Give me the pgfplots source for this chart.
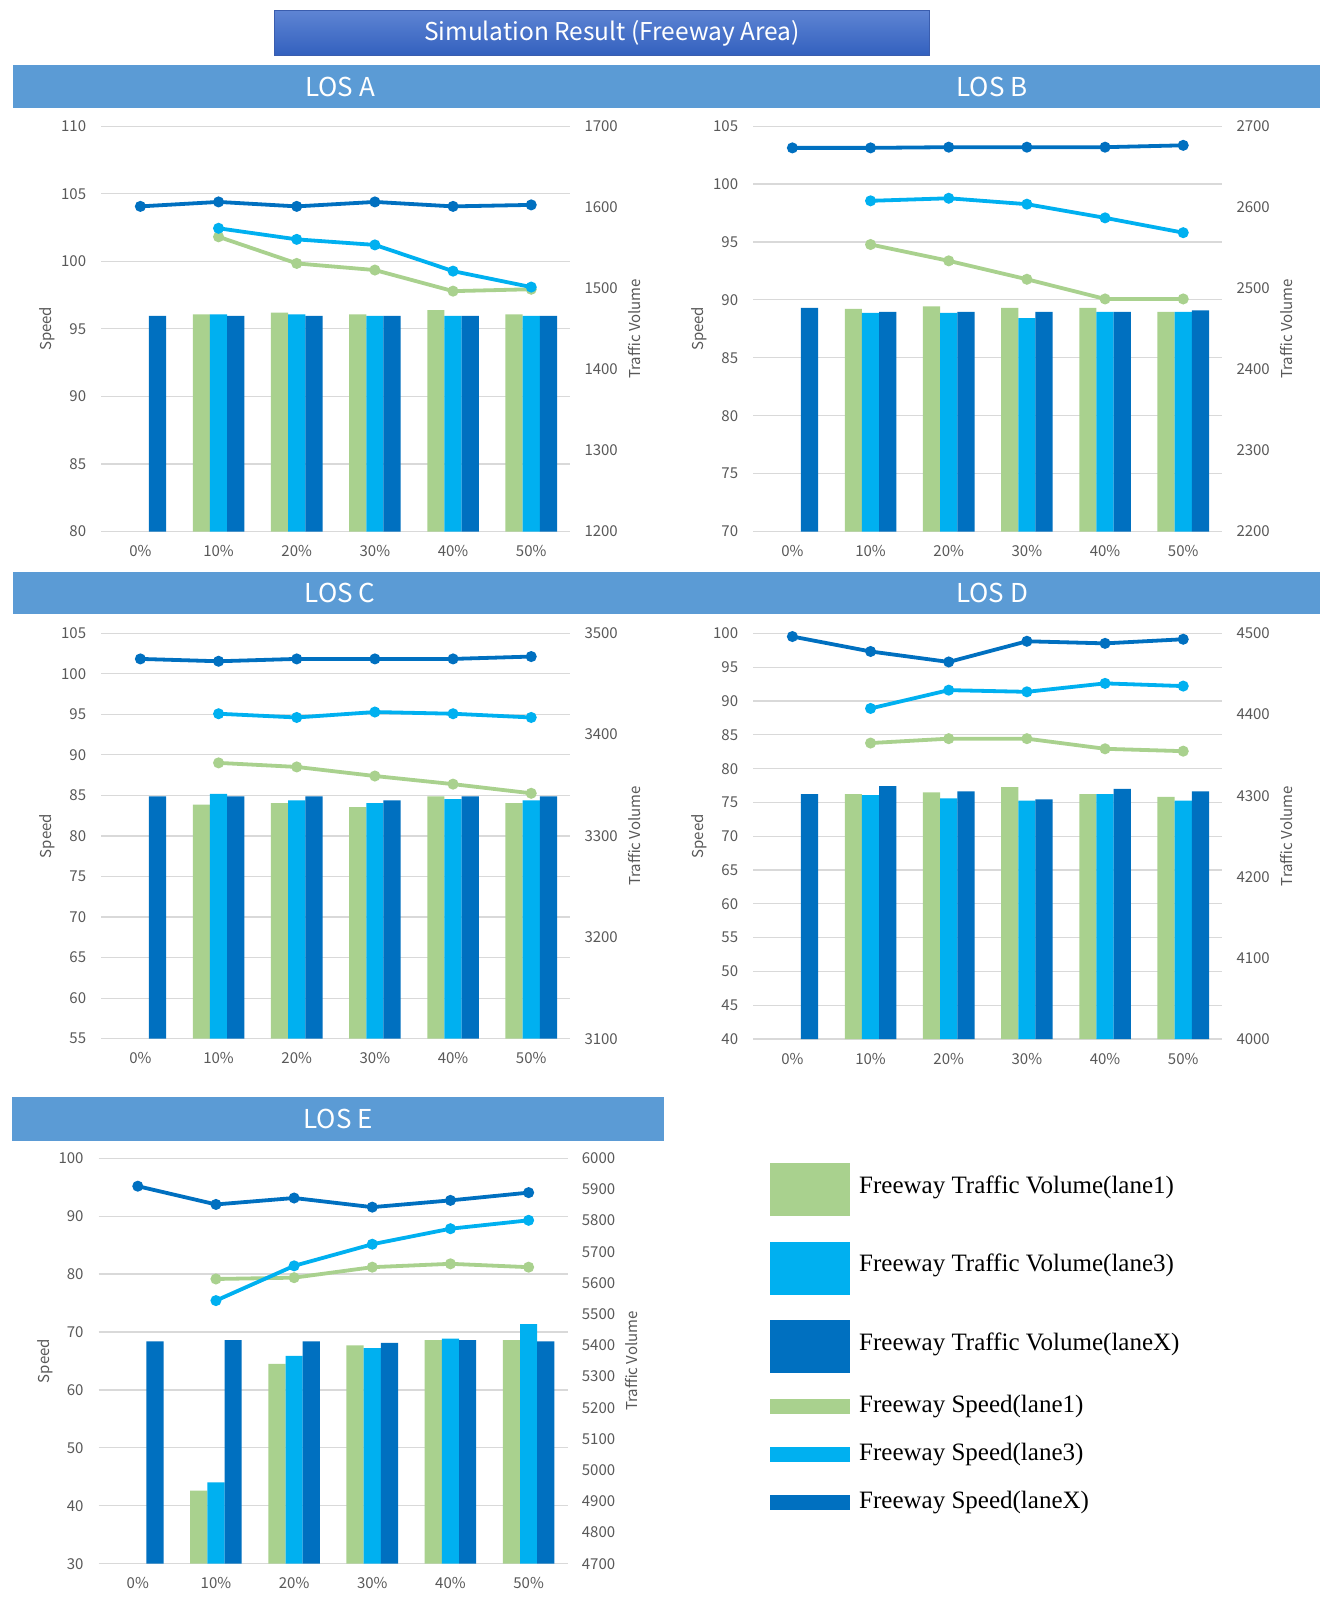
\documentclass[border=0pt]{standalone}
\usepackage{fontspec}
\usepackage{pgfplots}
\usepackage{pgfplotstable}
\pgfplotsset{compat=1.18}
\setmainfont{Noto Sans CJK KR}
\newfontfamily\legendfont{Liberation Serif}
\definecolor{cA}{HTML}{A9D18E}
\definecolor{cB}{HTML}{00B0F0}
\definecolor{cX}{HTML}{0070C0}
\definecolor{band}{HTML}{5B9BD5}
\definecolor{gridc}{HTML}{D9D9D9}
\definecolor{txt}{HTML}{595959}
\definecolor{ttop}{HTML}{5E84D3}
\definecolor{tbot}{HTML}{3260BE}
\definecolor{tborder}{HTML}{3A5DAE}

\pgfplotstableread{
x v1 v3 vX s1 s3 sX
0 nan nan 1466 nan nan 104.06
1 1468 1468 1466 101.81 102.44 104.39
2 1470 1468 1466 99.84 101.62 104.06
3 1468 1466 1466 99.35 101.21 104.39
4 1473 1466 1466 97.79 99.27 104.06
5 1468 1466 1466 97.93 98.09 104.17
}\dataA
\pgfplotstableread{
x v1 v3 vX s1 s3 sX
0 nan nan 2476 nan nan 103.12
1 2474.6 2469.6 2471 94.78 98.55 103.12
2 2477.8 2469.6 2471 93.37 98.77 103.18
3 2476 2463.2 2471 91.78 98.26 103.18
4 2476 2471 2471 90.08 97.08 103.18
5 2471 2471 2472.8 90.08 95.80 103.34
}\dataB
\pgfplotstableread{
x v1 v3 vX s1 s3 sX
0 nan nan 3339 nan nan 101.83
1 3331 3341.4 3339 89.01 95.07 101.54
2 3332.4 3335 3339 88.51 94.61 101.83
3 3328.4 3332.4 3335 87.39 95.28 101.83
4 3339 3336.4 3339 86.39 95.07 101.83
5 3332.4 3335 3339 85.26 94.61 102.12
}\dataC
\pgfplotstableread{
x v1 v3 vX s1 s3 sX
0 nan nan 4302 nan nan 99.55
1 4302 4300.6 4311.9 83.79 88.91 97.34
2 4304 4296.8 4305.2 84.44 91.62 95.79
3 4310.6 4293.9 4295.6 84.44 91.37 98.85
4 4302 4302 4308.5 82.94 92.62 98.54
5 4298.5 4293.9 4305.2 82.59 92.22 99.15
}\dataD
\pgfplotstableread{
x v1 v3 vX s1 s3 sX
0 nan nan 5412.7 nan nan 95.17
1 4934.7 4960.6 5417 79.15 75.42 92.02
2 5340.3 5366.2 5412.7 79.38 81.42 93.13
3 5399.8 5391.1 5408.4 81.19 85.15 91.55
4 5417 5421.4 5417 81.77 87.83 92.72
5 5417 5467.9 5412.7 81.19 89.28 94.06
}\dataE

\pgfplotsset{
 panel/.style={scale only axis, width=469pt, height=405.5pt, anchor=north west,
   xmin=-0.5, xmax=5.5,
   axis line style={draw=none}, tick style={draw=none}, major tick length=0pt,
   /pgf/number format/assume math mode=true, /pgf/number format/1000 sep={},
   scaled y ticks=false,
   tick label style={font=\fontsize{15}{18}\selectfont, text=txt},
   label style={font=\fontsize{15}{18}\selectfont, text=txt}},
 spd/.style={panel, ymajorgrids, grid style={draw=gridc, line width=1.2pt},
   xtick={0,...,5}, xticklabels={0\%,10\%,20\%,30\%,40\%,50\%},
   xticklabel style={anchor=center, inner sep=0pt, yshift=-19.5pt},
   yticklabel style={anchor=east, inner sep=0pt, xshift=-15pt},
   ylabel={Speed}, ylabel style={at={(axis description cs:-0.115,0.5)}, anchor=center}},
 vol/.style={panel, xtick=\empty, yticklabel pos=right,
   yticklabel style={anchor=west, inner sep=0pt, xshift=14pt},
   ylabel={Traffic Volume}, ylabel style={at={(axis description cs:1.137,0.5)}, anchor=center}},
 lns/.style={panel, hide axis, clip=false},
 bar1/.style={ybar, bar width=0.22, bar shift=-0.22, draw=none, fill=cA},
 bar3/.style={ybar, bar width=0.22, bar shift=0, draw=none, fill=cB},
 barX/.style={ybar, bar width=0.22, bar shift=0.22, draw=none, fill=cX},
 ln/.style={line width=3.8pt, mark=*, mark size=3.5pt, mark options={solid}},
 sqimg/.style={legend image code/.code={\path[draw=none, fill=none, use as bounding box] (0pt,-24.5pt) rectangle (89pt,34.5pt); \fill[#1, draw=none] (0pt,-28.5pt) rectangle (80pt,24.5pt);}},
 lnimg/.style={legend image code/.code={\path[draw=none, fill=none, use as bounding box] (0pt,-6pt) rectangle (89pt,18pt); \fill[#1, draw=none] (0pt,-7.5pt) rectangle (80pt,7.5pt);}},
}

\newcommand{\panel}[8]{%
 % #1 x, #2 y, #3 data, #4 smin, #5 smax, #6 sstep, #7 vmin, #8 vmax
 \begin{axis}[spd, at={(#1pt,-#2pt)}, ymin=#4, ymax=#5, ytick distance=#6]
 \end{axis}
 \begin{axis}[vol, at={(#1pt,-#2pt)}, ymin=#7, ymax=#8, ytick distance=100]
  \addplot[bar1] table[x=x, y=v1] {#3};
  \addplot[bar3] table[x=x, y=v3] {#3};
  \addplot[barX] table[x=x, y=vX] {#3};
 \end{axis}
 \begin{axis}[lns, at={(#1pt,-#2pt)}, ymin=#4, ymax=#5]
  \addplot[ln, color=cA] table[x=x, y=s1] {#3};
  \addplot[ln, color=cB] table[x=x, y=s3] {#3};
  \addplot[ln, color=cX] table[x=x, y=sX] {#3};
 \end{axis}
}

\begin{document}
\begin{tikzpicture}
\path[use as bounding box, fill=white] (0,0) rectangle (1337pt,-1619pt);
% title
\shade[top color=ttop, bottom color=tbot] (274pt,-11pt) rectangle (929pt,-56pt);
\draw[tborder, line width=1pt] (274pt,-11pt) rectangle (929pt,-56pt);
\node[text=white, font=\fontsize{24.5}{28}\selectfont] at (612pt,-33.5pt) {Simulation Result (Freeway Area)};
% bands
\fill[band] (13pt,-65pt) rectangle (1320pt,-108pt);
\fill[band] (13pt,-572pt) rectangle (1320pt,-614pt);
\fill[band] (12pt,-1097pt) rectangle (664pt,-1141pt);
\node[text=white, font=\fontsize{26}{30}\selectfont] at (340pt,-86.5pt) {LOS A};
\node[text=white, font=\fontsize{26}{30}\selectfont] at (992pt,-86.5pt) {LOS B};
\node[text=white, font=\fontsize{26}{30}\selectfont] at (340pt,-593pt) {LOS C};
\node[text=white, font=\fontsize{26}{30}\selectfont] at (992pt,-593pt) {LOS D};
\node[text=white, font=\fontsize{26}{30}\selectfont] at (338pt,-1119pt) {LOS E};

\panel{101.3}{126.1}{\dataA}{80}{110}{5}{1200}{1700}
\panel{753.3}{126.1}{\dataB}{70}{105}{5}{2200}{2700}
\panel{101.3}{633.2}{\dataC}{55}{105}{5}{3100}{3500}
\panel{753.3}{633.5}{\dataD}{40}{100}{5}{4000}{4500}
\panel{98.7}{1158.2}{\dataE}{30}{100}{10}{4700}{6000}

% legend
\begin{axis}[hide axis, scale only axis, width=450pt, height=380pt, anchor=north west,
  at={(770pt,-1153pt)}, xmin=0, xmax=1, ymin=0, ymax=1,
  legend cell align=left,
  legend style={at={(0,1)}, anchor=north west, draw=none, fill=none, inner sep=0pt,
    row sep=19.5pt, font=\legendfont\fontsize{25}{29}\selectfont,
    nodes={inner sep=0pt, text height=16pt, text depth=5pt}}]
\addlegendimage{sqimg=cA}
\addlegendentry{Freeway Traffic Volume(lane1)}
\addlegendimage{sqimg=cB}
\addlegendentry{Freeway Traffic Volume(lane3)}
\addlegendimage{sqimg=cX}
\addlegendentry{Freeway Traffic Volume(laneX)}
\addlegendimage{lnimg=cA}
\addlegendentry{Freeway Speed(lane1)}
\addlegendimage{lnimg=cB}
\addlegendentry{Freeway Speed(lane3)}
\addlegendimage{lnimg=cX}
\addlegendentry{Freeway Speed(laneX)}
\end{axis}
\end{tikzpicture}
\end{document}
